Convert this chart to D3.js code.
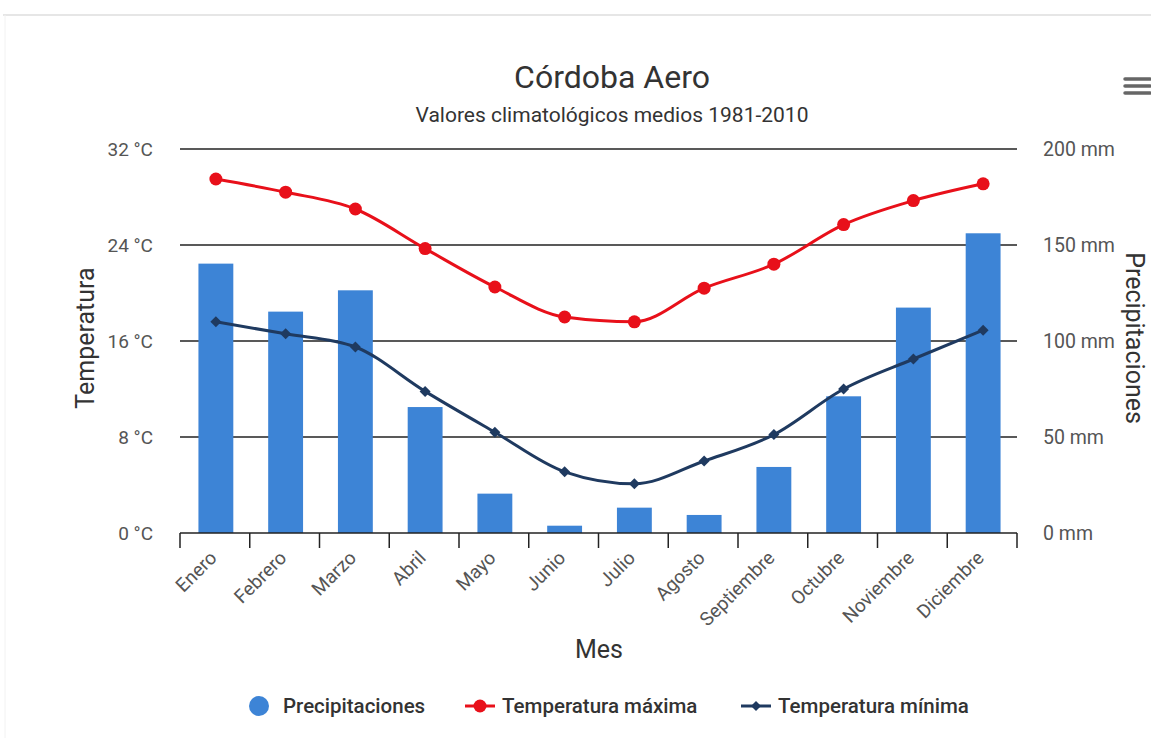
<!DOCTYPE html>
<html><head><meta charset="utf-8">
<script src="https://cdn.jsdelivr.net/npm/d3@7"></script>
<style>
html,body{margin:0;padding:0;background:#fff;}
svg{display:block;font-family:Roboto,"Noto Sans",sans-serif;}
</style></head>
<body>
<svg id="chart" width="1151" height="738"></svg>
<script>
const months = ["Enero","Febrero","Marzo","Abril","Mayo","Junio","Julio","Agosto","Septiembre","Octubre","Noviembre","Diciembre"];
const precipitation = [140.3,115.3,126.4,65.6,20.5,3.8,13.2,9.4,34.4,71.2,117.4,156.1];
const tempMax = [29.5,28.4,27.0,23.7,20.5,18.0,17.6,20.4,22.4,25.7,27.7,29.1];
const tempMin = [17.6,16.6,15.5,11.8,8.4,5.1,4.1,6.0,8.2,12.0,14.5,16.9];
const tempTicks = [0,8,16,24,32];
const precTicks = [0,50,100,150,200];

const svg = d3.select("#chart");
const L = 180, R = 1017, T = 149, B = 533;

// frame line at top
svg.append("line").attr("x1",3).attr("x2",1151).attr("y1",15).attr("y2",15).attr("stroke","#e6e6e6").attr("stroke-width",2);
svg.append("line").attr("x1",5).attr("x2",5).attr("y1",15).attr("y2",738).attr("stroke","#f2f2f2").attr("stroke-width",1);

const x = d3.scaleBand().domain(months).range([L,R]).paddingInner(0.5).paddingOuter(0.25);
const xb = d3.scaleBand().domain(months).range([L,R]);
const yT = d3.scaleLinear().domain([0,32]).range([B,T]);
const yP = d3.scaleLinear().domain([0,200]).range([B,T]);

// title
svg.append("text").attr("x",612).attr("y",88).attr("text-anchor","middle").attr("font-size",32).attr("fill","#333").text("Córdoba Aero");
svg.append("text").attr("x",612).attr("y",122).attr("text-anchor","middle").attr("font-size",21).attr("fill","#333").text("Valores climatológicos medios 1981-2010");

// hamburger
[79,86,93].forEach(yy=>svg.append("line").attr("x1",1125).attr("x2",1150).attr("y1",yy).attr("y2",yy).attr("stroke","#666").attr("stroke-width",3.5).attr("stroke-linecap","round"));

// gridlines
svg.append("g").selectAll("line").data(tempTicks.filter(d=>d>0)).join("line")
  .attr("x1",L).attr("x2",R).attr("y1",d=>yT(d)).attr("y2",d=>yT(d))
  .attr("stroke","#222").attr("stroke-width",1.3);

// left axis labels
svg.append("g").selectAll("text").data(tempTicks).join("text")
  .attr("x",153).attr("y",d=>yT(d)+7).attr("text-anchor","end").attr("font-size",19).attr("fill","#555")
  .text(d=>d+" °C");
// right axis labels
svg.append("g").selectAll("text").data(precTicks).join("text")
  .attr("x",1043).attr("y",d=>yP(d)+7).attr("text-anchor","start").attr("font-size",19.5).attr("fill","#555")
  .text(d=>d+" mm");

// axis titles
svg.append("text").attr("transform","translate(94,338) rotate(-90)").attr("text-anchor","middle").attr("font-size",25).attr("fill","#333").text("Temperatura");
svg.append("text").attr("transform","translate(1126,338) rotate(90)").attr("text-anchor","middle").attr("font-size",25).attr("fill","#333").text("Precipitaciones");
svg.append("text").attr("x",599).attr("y",658).attr("text-anchor","middle").attr("font-size",25).attr("fill","#333").text("Mes");

// bars
svg.append("g").selectAll("rect").data(precipitation).join("rect")
  .attr("x",(d,i)=>x(months[i])+1).attr("width",x.bandwidth())
  .attr("y",d=>yP(d)).attr("height",d=>B-yP(d)).attr("fill","#3d84d6");

// x axis
const xa = svg.append("g");
xa.append("line").attr("x1",L).attr("x2",R).attr("y1",B).attr("y2",B).attr("stroke","#222").attr("stroke-width",1.5);
const tickPos = months.map(m=>xb(m)).concat([R]);
xa.selectAll("line.t").data(tickPos).join("line").attr("class","t")
  .attr("x1",d=>d).attr("x2",d=>d).attr("y1",B).attr("y2",B+15).attr("stroke","#222").attr("stroke-width",1.5);
xa.selectAll("text").data(months).join("text")
  .attr("transform",d=>`translate(${xb(d)+xb.bandwidth()/2+3},${B+26}) rotate(-45)`)
  .attr("text-anchor","end").attr("font-size",19).attr("fill","#555").text(d=>d);

const cx = i => xb(months[i]) + xb.bandwidth()/2 + 1;
const lineT = d3.line().x((d,i)=>cx(i)).y(d=>yT(d)).curve(d3.curveMonotoneX);

// max temp
svg.append("path").attr("d",lineT(tempMax)).attr("fill","none").attr("stroke","#e8101a").attr("stroke-width",3);
svg.append("g").selectAll("circle").data(tempMax).join("circle")
  .attr("cx",(d,i)=>cx(i)).attr("cy",d=>yT(d)).attr("r",6.5).attr("fill","#e8101a");

// min temp
svg.append("path").attr("d",lineT(tempMin)).attr("fill","none").attr("stroke","#1f3a60").attr("stroke-width",3);
svg.append("g").selectAll("path.d").data(tempMin).join("path").attr("class","d")
  .attr("d",d3.symbol(d3.symbolSquare, 60)())
  .attr("transform",(d,i)=>`translate(${cx(i)},${yT(d)}) rotate(45)`).attr("fill","#1f3a60");

// legend
const lg = svg.append("g").attr("font-size",20.5).attr("font-weight","500").attr("fill","#333");
lg.append("circle").attr("cx",259).attr("cy",706).attr("r",10).attr("fill","#3d84d6");
lg.append("text").attr("x",283).attr("y",713).text("Precipitaciones");
lg.append("line").attr("x1",465).attr("x2",495).attr("y1",706).attr("y2",706).attr("stroke","#e8101a").attr("stroke-width",3);
lg.append("circle").attr("cx",480).attr("cy",706).attr("r",6.5).attr("fill","#e8101a");
lg.append("text").attr("x",502).attr("y",713).text("Temperatura máxima");
lg.append("line").attr("x1",741).attr("x2",771).attr("y1",706).attr("y2",706).attr("stroke","#1f3a60").attr("stroke-width",3);
lg.append("path").attr("d",d3.symbol(d3.symbolSquare,50)()).attr("transform","translate(756,706) rotate(45)").attr("fill","#1f3a60");
lg.append("text").attr("x",778).attr("y",713).text("Temperatura mínima");
</script>
</body></html>
